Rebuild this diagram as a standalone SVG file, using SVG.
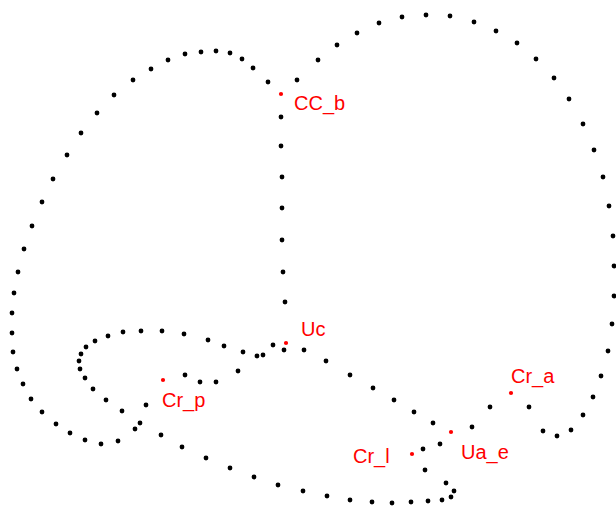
<svg xmlns="http://www.w3.org/2000/svg" width="616" height="506" viewBox="0 0 616 506">
<style>
.d{fill:#000}
.r{fill:#ff0000}
.t{fill:#ff0000;font-family:"Liberation Sans",Arial,sans-serif;font-size:20px}
</style>
<defs><circle id="dot" r="2.4"/></defs>
<rect width="616" height="506" fill="#fff"/>
<g id="connectors" class="d">
<!-- left top arc -->
<use href="#dot" x="297" y="80"/><use href="#dot" x="268" y="82"/><use href="#dot" x="253" y="68"/><use href="#dot" x="242" y="59"/><use href="#dot" x="230" y="53"/><use href="#dot" x="216" y="51"/><use href="#dot" x="201" y="52"/><use href="#dot" x="185" y="54"/><use href="#dot" x="168" y="60"/><use href="#dot" x="151" y="69"/><use href="#dot" x="133" y="80"/><use href="#dot" x="114" y="95"/><use href="#dot" x="97" y="113"/><use href="#dot" x="81" y="133"/><use href="#dot" x="67" y="155"/><use href="#dot" x="53" y="179"/><use href="#dot" x="42" y="202"/><use href="#dot" x="32" y="226"/><use href="#dot" x="24" y="249"/>
<!-- left side -->
<use href="#dot" x="18" y="272"/><use href="#dot" x="14" y="293"/><use href="#dot" x="12" y="313"/><use href="#dot" x="12" y="333"/><use href="#dot" x="13" y="352"/><use href="#dot" x="17" y="369"/><use href="#dot" x="23" y="384"/><use href="#dot" x="31" y="399"/><use href="#dot" x="42" y="412"/><use href="#dot" x="56" y="424"/><use href="#dot" x="70" y="433"/><use href="#dot" x="85" y="440"/><use href="#dot" x="101" y="444"/><use href="#dot" x="118" y="441"/><use href="#dot" x="135" y="429"/><use href="#dot" x="140" y="423"/><use href="#dot" x="146" y="405"/>
<!-- vertical line -->
<use href="#dot" x="281" y="117"/><use href="#dot" x="281" y="146"/><use href="#dot" x="282" y="177"/><use href="#dot" x="282" y="208"/><use href="#dot" x="282" y="240"/><use href="#dot" x="283" y="272"/><use href="#dot" x="285" y="302"/>
<!-- inner loop -->
<use href="#dot" x="284" y="350"/><use href="#dot" x="304" y="350"/><use href="#dot" x="273" y="345"/><use href="#dot" x="263" y="355"/><use href="#dot" x="257" y="356"/><use href="#dot" x="243" y="352"/><use href="#dot" x="238" y="371"/><use href="#dot" x="224" y="346"/><use href="#dot" x="208" y="340"/><use href="#dot" x="184" y="334"/><use href="#dot" x="162" y="331"/><use href="#dot" x="141" y="331"/><use href="#dot" x="123" y="332"/><use href="#dot" x="108" y="336"/><use href="#dot" x="95" y="341"/><use href="#dot" x="86" y="347"/><use href="#dot" x="81" y="354"/><use href="#dot" x="79" y="361"/><use href="#dot" x="80" y="369"/><use href="#dot" x="85" y="378"/><use href="#dot" x="93" y="389"/><use href="#dot" x="106" y="400"/><use href="#dot" x="122" y="411"/>
<use href="#dot" x="185" y="375"/><use href="#dot" x="200" y="382"/><use href="#dot" x="216" y="382"/>
<!-- bottom curve -->
<use href="#dot" x="161" y="435"/><use href="#dot" x="182" y="447"/><use href="#dot" x="206" y="458"/><use href="#dot" x="230" y="468"/><use href="#dot" x="254" y="477"/><use href="#dot" x="278" y="485"/><use href="#dot" x="303" y="491"/><use href="#dot" x="327" y="496"/><use href="#dot" x="350" y="500"/><use href="#dot" x="372" y="502"/><use href="#dot" x="392" y="503"/><use href="#dot" x="411" y="502"/><use href="#dot" x="428" y="501"/><use href="#dot" x="442" y="500"/><use href="#dot" x="451" y="497"/><use href="#dot" x="454" y="491"/><use href="#dot" x="446" y="483"/><use href="#dot" x="425" y="470"/>
<!-- right lower -->
<use href="#dot" x="423" y="449"/><use href="#dot" x="440" y="444"/><use href="#dot" x="472" y="427"/><use href="#dot" x="490" y="407"/><use href="#dot" x="529" y="407"/><use href="#dot" x="543" y="431"/><use href="#dot" x="557" y="436"/><use href="#dot" x="571" y="430"/><use href="#dot" x="583" y="415"/><use href="#dot" x="593" y="397"/><use href="#dot" x="601" y="376"/><use href="#dot" x="608" y="351"/><use href="#dot" x="612" y="324"/><use href="#dot" x="614" y="296"/><use href="#dot" x="614" y="266"/>
<!-- Uc to Ua_e -->
<use href="#dot" x="326" y="361"/><use href="#dot" x="350" y="375"/><use href="#dot" x="373" y="388"/><use href="#dot" x="394" y="400"/><use href="#dot" x="414" y="412"/><use href="#dot" x="433" y="423"/>
<!-- right top arc -->
<use href="#dot" x="318" y="60"/><use href="#dot" x="337" y="45"/><use href="#dot" x="357" y="33"/><use href="#dot" x="379" y="23"/><use href="#dot" x="402" y="17"/><use href="#dot" x="426" y="15"/><use href="#dot" x="450" y="16"/><use href="#dot" x="474" y="22"/><use href="#dot" x="496" y="31"/><use href="#dot" x="517" y="43"/><use href="#dot" x="536" y="59"/><use href="#dot" x="554" y="78"/><use href="#dot" x="569" y="99"/><use href="#dot" x="583" y="124"/><use href="#dot" x="594" y="150"/><use href="#dot" x="603" y="177"/><use href="#dot" x="609" y="206"/><use href="#dot" x="613" y="236"/>
</g>
<g id="CC_b"><circle class="r" cx="281" cy="94" r="2.1"/><text class="t" x="294" y="110">CC_b</text></g>
<g id="Uc"><circle class="r" cx="286" cy="343" r="2.1"/><text class="t" x="301" y="336">Uc</text></g>
<g id="Cr_p"><circle class="r" cx="163" cy="380" r="2.1"/><text class="t" x="162" y="407">Cr_p</text></g>
<g id="Cr_a"><circle class="r" cx="511" cy="393" r="2.1"/><text class="t" x="511" y="383">Cr_a</text></g>
<g id="Ua_e"><circle class="r" cx="451" cy="432" r="2.1"/><text class="t" x="461" y="459">Ua_e</text></g>
<g id="Cr_l"><circle class="r" cx="412" cy="454" r="2.1"/><text class="t" x="353" y="463">Cr_l</text></g>
</svg>
